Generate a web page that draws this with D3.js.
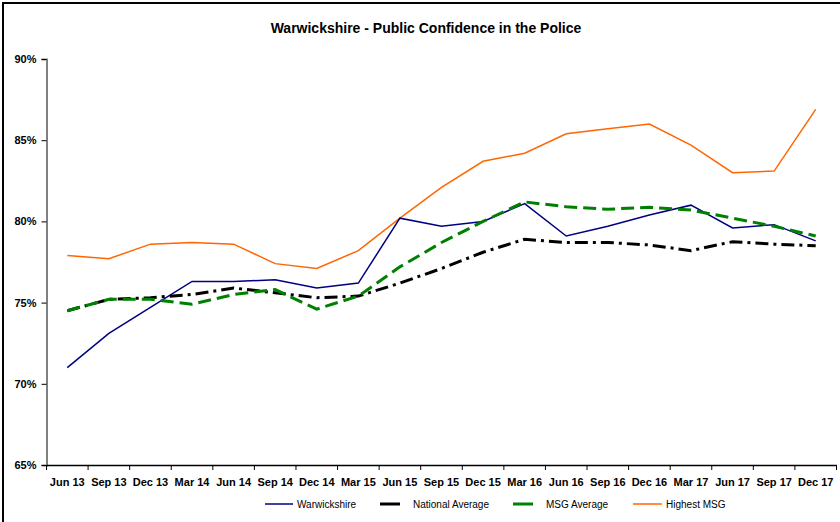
<!DOCTYPE html>
<html>
<head>
<meta charset="utf-8">
<script src="https://cdn.jsdelivr.net/npm/d3@7"></script>
<style>
  body { margin: 0; background: #fff; }
  svg { display: block; font-family: "Liberation Sans", Arial, sans-serif; }
  .axis text { font-size: 11px; font-weight: bold; fill: #000; }
  .legend text { font-size: 10px; fill: #000; }
</style>
</head>
<body>
<div id="chart"></div>
<script>
// quarters along the x axis
let quarters = ["Jun 13", "Sep 13", "Dec 13", "Mar 14", "Jun 14", "Sep 14", "Dec 14", "Mar 15",
    "Jun 15", "Sep 15", "Dec 15", "Mar 16", "Jun 16", "Sep 16", "Dec 16", "Mar 17",
    "Jun 17", "Sep 17", "Dec 17"];

// confidence, percent
let warwickshire = [71.0, 73.1, 74.7, 76.3, 76.3, 76.4, 75.9, 76.2, 80.2, 79.7, 80.0, 81.1,
    79.1, 79.7, 80.4, 81.0, 79.6, 79.8, 78.8];
let nationalAvg = [74.5, 75.2, 75.3, 75.5, 75.9, 75.6, 75.3, 75.4, 76.2, 77.1, 78.1, 78.9,
    78.7, 78.7, 78.55, 78.2, 78.75, 78.6, 78.5];
let msgAvg = [74.5, 75.2, 75.2, 74.9, 75.5, 75.8, 74.6, 75.4, 77.2, 78.7, 80.0, 81.2,
    80.9, 80.75, 80.87, 80.7, 80.2, 79.7, 79.1];
let highestMsg = [77.9, 77.7, 78.6, 78.7, 78.6, 77.4, 77.1, 78.2, 80.2, 82.1, 83.7, 84.2,
    85.4, 85.7, 86.0, 84.7, 83.0, 83.1, 86.9];

let yTicks = [65, 70, 75, 80, 85, 90];

let width = 840, height = 522;
let plot = {left: 46.5, right: 836.5, top: 59, bottom: 465};

let svg = d3.select("#chart").append("svg")
    .attr("width", width)
    .attr("height", height);

// outer frame (runs off the right / bottom edge like the original)
svg.append("rect")
    .attr("x", 3).attr("y", 3)
    .attr("width", 860).attr("height", 540)
    .attr("fill", "none")
    .attr("stroke", "#000")
    .attr("stroke-width", 2);

svg.append("text")
    .attr("x", 426)
    .attr("y", 33)
    .attr("text-anchor", "middle")
    .style("font-size", "14px")
    .style("font-weight", "bold")
    .text("Warwickshire - Public Confidence in the Police");

let x = d3.scaleBand().domain(quarters).range([plot.left, plot.right]);
let y = d3.scaleLinear().domain([65, 90]).range([plot.bottom, plot.top]);

// y axis
let yAxis = svg.append("g")
    .attr("class", "axis")
    .attr("transform", "translate(" + plot.left + ",0)")
    .call(d3.axisLeft(y).tickValues(yTicks).tickSize(5).tickPadding(5)
        .tickFormat(function(d) { return d + "%"; }));
yAxis.select(".domain").attr("stroke", "#808080").attr("stroke-width", 2);
yAxis.selectAll(".tick line").attr("stroke", "#000");

// x axis, ticks sit on band edges
let xAxis = svg.append("g")
    .attr("class", "axis")
    .attr("transform", "translate(0," + plot.bottom + ")")
    .call(d3.axisBottom(x).tickSize(0).tickPadding(13));
xAxis.select(".domain").attr("stroke", "#000").attr("stroke-width", 1.5);
xAxis.selectAll(".edge")
    .data(quarters.map(function(q) { return x(q); }).concat([plot.right]))
    .enter().append("line")
    .attr("class", "edge")
    .attr("x1", function(d) { return d; })
    .attr("x2", function(d) { return d; })
    .attr("y1", 0).attr("y2", 5)
    .attr("stroke", "#000");

let line = d3.line()
    .x(function(d, i) { return x(quarters[i]) + x.bandwidth() / 2; })
    .y(function(d) { return y(d); });

let series = [
    {name: "Warwickshire", values: warwickshire, color: "#000080", width: 1.5, dash: null},
    {name: "National Average", values: nationalAvg, color: "#000000", width: 3, dash: "13,5,3,5"},
    {name: "MSG Average", values: msgAvg, color: "#008000", width: 3, dash: "13,6"},
    {name: "Highest MSG", values: highestMsg, color: "#FF6600", width: 1.5, dash: null}
];

// draw order: orange, blue, black, green on top
[series[3], series[0], series[1], series[2]].forEach(function(s) {
    svg.append("path")
        .datum(s.values)
        .attr("fill", "none")
        .attr("stroke", s.color)
        .attr("stroke-width", s.width)
        .attr("stroke-dasharray", s.dash)
        .attr("d", line);
});

// legend
let legendPos = [{x1: 265, x2: 293}, {x1: 380, x2: 400}, {x1: 513, x2: 533}, {x1: 633, x2: 662}];
let legend = svg.append("g").attr("class", "legend");
series.forEach(function(s, i) {
    let p = legendPos[i];
    legend.append("line")
        .attr("x1", p.x1).attr("x2", p.x2)
        .attr("y1", 504).attr("y2", 504)
        .attr("stroke", s.color)
        .attr("stroke-width", s.width);
    legend.append("text")
        .attr("x", p.x2 + (s.width > 2 ? 13 : 4))
        .attr("y", 508)
        .text(s.name);
});
</script>
</body>
</html>
